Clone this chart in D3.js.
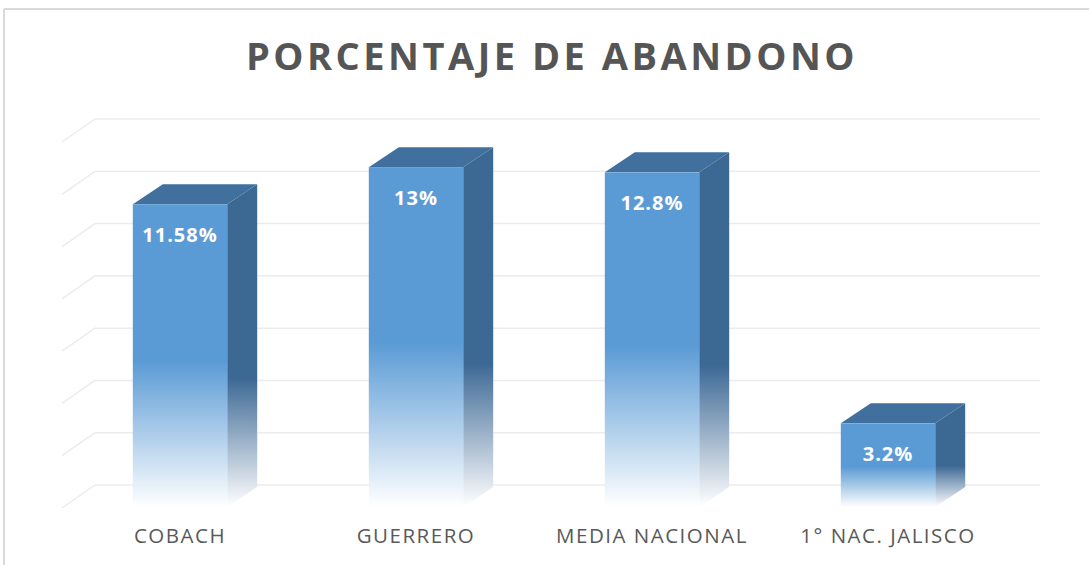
<!DOCTYPE html>
<html>
<head>
<meta charset="utf-8">
<script src="https://cdn.jsdelivr.net/npm/d3@7"></script>
<style>
    body { margin: 0; background: #fff; }
    svg { display: block; }
</style>
</head>
<body>
<div id="chart"></div>
<script>
// ===========================
// Porcentaje de abandono
// 3D-style column chart
// ===========================

const categories = ['COBACH', 'GUERRERO', 'MEDIA NACIONAL', '1° NAC. JALISCO'];
const values = [11.58, 13, 12.8, 3.2];
const valueLabels = ['11.58%', '13%', '12.8%', '3.2%'];
const gridTicks = [0, 2, 4, 6, 8, 10, 12, 14];

const width = 1089;
const height = 565;

// depth of the 3D wall / bars
const wallDx = 33, wallDy = 23;
const barDx = 30, barDy = 20;
const frontDy = 22;

const svg = d3.select('#chart')
    .append('svg')
    .attr('width', width)
    .attr('height', height);

const defs = svg.append('defs');

function fadeGradient(id, color, solidTo) {
    const g = defs.append('linearGradient')
        .attr('id', id)
        .attr('x1', 0).attr('y1', 0)
        .attr('x2', 0).attr('y2', 1);
    g.append('stop').attr('offset', 0).attr('stop-color', color);
    g.append('stop').attr('offset', solidTo).attr('stop-color', color);
    g.append('stop').attr('offset', 1).attr('stop-color', '#ffffff');
}
fadeGradient('front-grad', '#5b9bd5', 0.52);
fadeGradient('side-grad', '#3c6894', 0.6);

// frame lines (picture is cropped)
svg.append('line')
    .attr('x1', 4).attr('y1', 9).attr('x2', width).attr('y2', 9)
    .attr('stroke', '#d9d9d9').attr('stroke-width', 2);
svg.append('line')
    .attr('x1', 4).attr('y1', 9).attr('x2', 4).attr('y2', height)
    .attr('stroke', '#d9d9d9').attr('stroke-width', 2);

// scales
const y = d3.scaleLinear()
    .domain([0, 14])
    .range([485, 119]);

const x = d3.scaleBand()
    .domain(categories)
    .range([62, 1006])
    .paddingInner(0.6)
    .paddingOuter(0.3);

// gridlines on back wall + side diagonals
const grid = svg.append('g');
grid.selectAll('.h')
    .data(gridTicks)
    .join('line')
    .attr('x1', 62 + wallDx).attr('x2', 1040)
    .attr('y1', d => y(d)).attr('y2', d => y(d))
    .attr('stroke', '#ececec').attr('stroke-width', 1.5);
grid.selectAll('.d')
    .data(gridTicks)
    .join('line')
    .attr('x1', 62).attr('y1', d => y(d) + wallDy)
    .attr('x2', 62 + wallDx).attr('y2', d => y(d))
    .attr('stroke', '#ececec').attr('stroke-width', 1.5);

// bars
const data = categories.map((c, i) => ({ name: c, value: values[i], label: valueLabels[i] }));
const bw = x.bandwidth();
const floorY = y(0) + frontDy;

const bar = svg.selectAll('.bar')
    .data(data)
    .join('g')
    .attr('class', 'bar');

// side face
bar.append('path')
    .attr('d', d => {
        const x1 = x(d.name) + bw, top = y(d.value) + frontDy;
        return `M${x1},${top} L${x1 + barDx},${top - barDy} L${x1 + barDx},${floorY - barDy} L${x1},${floorY} Z`;
    })
    .attr('fill', 'url(#side-grad)');

// top face
bar.append('path')
    .attr('d', d => {
        const x0 = x(d.name), top = y(d.value) + frontDy;
        return `M${x0},${top} L${x0 + barDx},${top - barDy} L${x0 + bw + barDx},${top - barDy} L${x0 + bw},${top} Z`;
    })
    .attr('fill', '#41709e');

// front face
bar.append('rect')
    .attr('x', d => x(d.name))
    .attr('y', d => y(d.value) + frontDy)
    .attr('width', bw)
    .attr('height', d => floorY - (y(d.value) + frontDy))
    .attr('fill', 'url(#front-grad)');

// value labels
bar.append('text')
    .attr('x', d => x(d.name) + bw / 2)
    .attr('y', d => y(d.value) + frontDy + 38)
    .attr('text-anchor', 'middle')
    .attr('font-family', 'Open Sans, sans-serif')
    .attr('font-size', '20px')
    .attr('font-weight', '700')
    .attr('letter-spacing', '1px')
    .attr('fill', '#ffffff')
    .text(d => d.label);

// category labels
svg.append('g')
    .selectAll('text')
    .data(categories)
    .join('text')
    .attr('x', d => x(d) + bw / 2)
    .attr('y', 543)
    .attr('text-anchor', 'middle')
    .attr('font-family', 'Open Sans, sans-serif')
    .attr('font-size', '20.5px')
    .attr('letter-spacing', '1.5px')
    .attr('fill', '#595959')
    .text(d => d);

// title
svg.append('text')
    .attr('x', 552)
    .attr('y', 70)
    .attr('text-anchor', 'middle')
    .attr('font-family', 'Open Sans, sans-serif')
    .attr('font-size', '38px')
    .attr('font-weight', '700')
    .attr('letter-spacing', '3.5px')
    .attr('fill', '#555555')
    .text('PORCENTAJE DE ABANDONO');
</script>
</body>
</html>
